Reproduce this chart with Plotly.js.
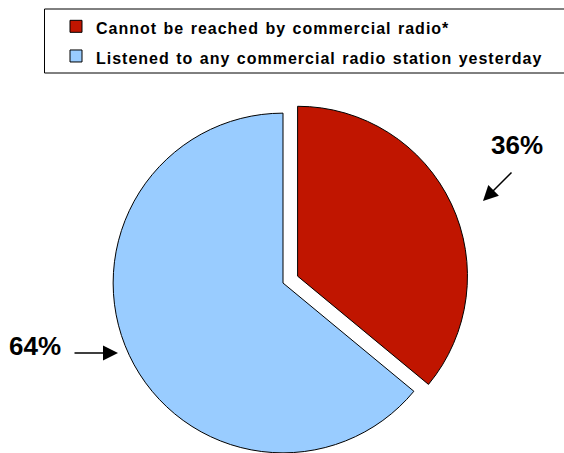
<!DOCTYPE html>
<html>
<head>
<meta charset="utf-8">
<script src="https://cdn.plot.ly/plotly-3.0.1.min.js"></script>
<style>
  html, body { margin: 0; padding: 0; overflow: hidden; background: #fff; }
  #chart { width: 564px; height: 480px; }
  .legendtext { font-size: 16px !important; letter-spacing: 1px; word-spacing: 1px; font-weight: bold !important; }
</style>
</head>
<body>
<div id="chart"></div>
<script>
// ---- data ----
const labels = ['Cannot be reached by commercial radio*', 'Listened to any commercial radio station yesterday'];
const values = [36, 64];
const pulls = [0.095, 0];
const sliceColors = ['#C01500', '#99CCFF'];
const percentLabels = values.map(v => v + '%');

const W = 564, H = 480;
const px = x => x / W;
const py = y => 1 - y / H;

const trace = {
  type: 'pie',
  labels: labels,
  values: values,
  pull: pulls,
  sort: false,
  direction: 'clockwise',
  rotation: 0,
  textinfo: 'none',
  hoverinfo: 'label+percent',
  marker: { colors: sliceColors, line: { color: '#000', width: 1 } },
  domain: { x: [px(97), px(469)], y: [py(469), py(97)] }
};

const fontFam = 'Arial, "Liberation Sans", sans-serif';

const layout = {
  width: W, height: H,
  margin: { l: 0, r: 0, t: 0, b: 0 },
  paper_bgcolor: '#fff',
  showlegend: true,
  legend: {
    x: px(56), xanchor: 'left',
    y: py(6.5), yanchor: 'top',
    bgcolor: 'rgba(0,0,0,0)',
    borderwidth: 0,
    font: { family: fontFam, size: 20.5, weight: 'bold', color: '#000' }
  },
  shapes: [
    { type: 'rect', xref: 'paper', yref: 'paper',
      x0: px(44.5), x1: 1.05, y0: py(73), y1: py(9),
      line: { color: '#000', width: 1 }, fillcolor: 'rgba(0,0,0,0)' }
  ],
  annotations: [
    { xref: 'paper', yref: 'paper', x: px(517), y: py(145), text: percentLabels[0],
      showarrow: false, xanchor: 'center', yanchor: 'middle',
      font: { family: fontFam, size: 26, weight: 'bold', color: '#000' } },
    { xref: 'paper', yref: 'paper', x: px(35), y: py(346), text: percentLabels[1],
      showarrow: false, xanchor: 'center', yanchor: 'middle',
      font: { family: fontFam, size: 26, weight: 'bold', color: '#000' } },
    { xref: 'paper', yref: 'paper', x: px(483), y: py(201), text: '',
      showarrow: true, ax: 30, ay: -30, arrowhead: 2, arrowsize: 2, arrowwidth: 1.5, arrowcolor: '#000' },
    { xref: 'paper', yref: 'paper', x: px(118), y: py(353), text: '',
      showarrow: true, ax: -45, ay: 0, arrowhead: 2, arrowsize: 2, arrowwidth: 1.5, arrowcolor: '#000' }
  ]
};

Plotly.newPlot('chart', [trace], layout, { staticPlot: true, displayModeBar: false });
</script>
</body>
</html>
